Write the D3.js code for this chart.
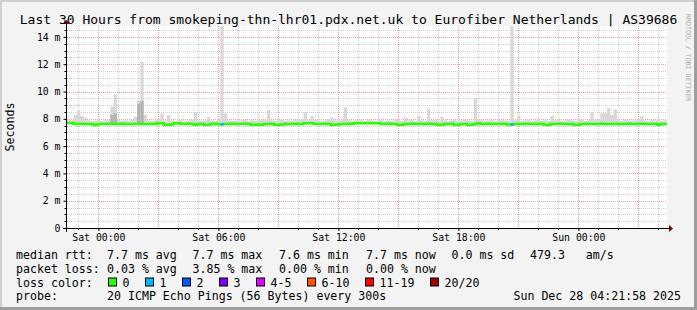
<!DOCTYPE html>
<html>
<head>
<meta charset="utf-8">
<script src="https://cdn.jsdelivr.net/npm/d3@7"></script>
<style>
  body { margin: 0; background: #f3f3f3; }
  svg text { font-family: "DejaVu Sans Mono", monospace; fill: #000; }
</style>
</head>
<body>
<svg id="chart" width="697" height="310"></svg>
<script>
// ---- data (10 minute bins, 30 hours) ----
const titleText = 'Last 30 Hours from smokeping-thn-lhr01.pdx.net.uk to Eurofiber Netherlands | AS39686';
const startTime = new Date(2025, 11, 26, 22, 26);
const endTime = new Date(2025, 11, 28, 4, 26);
const binMinutes = 10;

// median rtt in ms, one per bin
const medianRtt = [
  7.70,7.70,7.62,7.62,7.63,7.62,7.62,7.61,7.55,7.60,7.62,7.62,7.63,7.62,7.62,7.62,7.63,7.62,7.62,7.62,
  7.62,7.62,7.63,7.62,7.62,7.62,7.62,7.68,7.68,7.57,7.57,7.58,7.68,7.68,7.62,7.62,7.63,7.62,7.56,7.62,
  7.62,7.57,7.57,7.62,7.63,7.60,7.60,7.62,7.62,7.63,7.62,7.62,7.62,7.63,7.62,7.57,7.57,7.58,7.57,7.62,
  7.62,7.63,7.57,7.57,7.58,7.62,7.62,7.62,7.63,7.62,7.62,7.68,7.68,7.67,7.62,7.62,7.62,7.63,7.62,7.57,
  7.57,7.58,7.62,7.62,7.63,7.62,7.68,7.68,7.68,7.68,7.68,7.68,7.67,7.68,7.62,7.62,7.63,7.62,7.62,7.57,
  7.57,7.62,7.62,7.63,7.62,7.62,7.62,7.62,7.63,7.62,7.62,7.57,7.57,7.62,7.62,7.63,7.57,7.57,7.62,7.62,
  7.57,7.57,7.62,7.68,7.62,7.62,7.63,7.62,7.62,7.62,7.63,7.62,7.58,7.58,7.62,7.62,7.62,7.63,7.62,7.62,
  7.62,7.63,7.62,7.57,7.57,7.62,7.62,7.63,7.62,7.62,7.62,7.62,7.57,7.57,7.62,7.63,7.62,7.62,7.62,7.62,
  7.63,7.62,7.62,7.62,7.63,7.62,7.62,7.62,7.63,7.62,7.62,7.62,7.63,7.62,7.62,7.62,7.62,7.57,7.62,7.62
];

// highest ping of each bin in ms (top of the smoke)
const smokeMax = [
  7.95,7.90,8.30,8.65,8.20,8.10,7.90,7.85,7.85,7.90,7.85,7.90,7.95,8.90,9.75,7.90,7.85,7.90,7.85,7.95,
  8.15,9.30,12.20,8.30,7.90,7.85,7.90,7.95,8.40,7.90,8.30,7.90,7.85,7.90,7.95,7.85,7.90,7.95,8.50,7.90,
  7.85,7.90,8.15,7.90,7.85,7.95,14.80,8.40,7.90,7.85,7.90,7.85,7.90,7.95,7.85,7.90,7.85,7.90,7.95,7.90,
  8.65,7.90,7.85,7.90,7.95,7.85,7.90,7.85,7.95,7.90,7.95,8.50,7.90,8.20,7.95,7.90,7.85,7.90,7.95,8.10,
  7.90,7.85,7.95,8.85,7.90,7.85,7.90,7.95,7.90,7.85,7.95,7.90,7.85,7.90,7.95,7.85,7.90,7.85,7.95,7.90,
  7.85,8.10,7.90,7.95,7.85,8.20,7.90,7.85,8.70,7.90,7.95,7.85,8.15,7.90,7.85,7.95,7.90,7.85,7.90,7.95,
  7.90,7.85,9.50,7.95,7.90,7.85,7.90,7.95,7.85,7.90,7.95,7.90,7.85,14.80,7.90,8.20,7.85,7.90,7.95,7.85,
  7.90,7.95,7.85,7.90,7.85,8.20,7.90,7.95,7.85,7.90,7.95,7.90,7.85,7.90,7.95,7.85,7.90,8.50,7.90,7.95,
  8.40,8.40,8.80,8.30,8.70,7.90,7.85,7.95,7.90,7.85,7.90,7.95,8.20,7.90,7.85,7.95,7.90,8.00,7.85,7.90
];

// bins where the inner pings spread out as well: [bin, ms]
const smokeDark = [[13, 8.3], [14, 8.4], [21, 9.1], [22, 9.3]];

// bins with lost pings: [bin, lost count]
const lossEvents = [[46, 1], [133, 1]];

const yTicks = [0, 2, 4, 6, 8, 10, 12, 14];
const lossLabels = ['0', '1', '2', '3', '4-5', '6-10', '11-19', '20/20'];
const lossColors = ['#26ff00', '#00b8ff', '#0059ff', '#7e00ff', '#dd00ff', '#ff5500', '#ff0000', '#a00000'];
const rttStats = ['7.7 ms avg', '7.7 ms max', '7.6 ms min', '7.7 ms now', '0.0 ms sd', '479.3   am/s'];
const lossStats = ['0.03 % avg', '3.85 % max', '0.00 % min', '0.00 % now'];
const probeText = '20 ICMP Echo Pings (56 Bytes) every 300s';
const stampText = 'Sun Dec 28 04:21:58 2025';

// ---- layout ----
const W = 697, H = 310;
const plot = { left: 67, right: 667, top: 26, bottom: 228 };
const legendX = 16, valueX = 107;
const statX = [107, 192.5, 279, 366, 451.5, 530];
const lineY = [258.5, 272.5, 286.5, 299.5];

const svg = d3.select('#chart');

// frame
svg.append('rect').attr('width', W).attr('height', H).attr('fill', '#f3f3f3');
svg.append('path').attr('d', `M0,0H${W}V2H2V${H}H0Z`).attr('fill', '#cfcfcf');
svg.append('path').attr('d', `M${W},${H}H0V${H - 3}H${W - 3}V0H${W}Z`).attr('fill', '#9e9e9e');

const x = d3.scaleTime().domain([startTime, endTime]).range([plot.left, plot.right]);
const y = d3.scaleLinear().domain([0, 14.8]).range([plot.bottom, plot.top]);

const binTime = i => new Date(startTime.getTime() + i * binMinutes * 60000);

// canvas
svg.append('rect')
  .attr('x', plot.left).attr('y', plot.top)
  .attr('width', plot.right - plot.left).attr('height', plot.bottom - plot.top)
  .attr('fill', '#ffffff');

// grid
const grid = svg.append('g').attr('shape-rendering', 'crispEdges');
const hourTicks = x.ticks(d3.timeHour.every(1));
const majorTicks = x.ticks(d3.timeHour.every(3));
const majorSet = new Set(majorTicks.map(d => +d));

grid.selectAll('.vminor')
  .data(hourTicks.filter(d => !majorSet.has(+d)))
  .enter().append('line')
  .attr('x1', d => Math.round(x(d)) + 0.5).attr('x2', d => Math.round(x(d)) + 0.5)
  .attr('y1', plot.top).attr('y2', plot.bottom)
  .attr('stroke', '#cdcdcd').attr('stroke-dasharray', '1,1');

const hValues = d3.range(1, 30).map(k => k * 0.5);
grid.selectAll('.hminor')
  .data(hValues.filter(v => v % 2 !== 0))
  .enter().append('line')
  .attr('x1', plot.left).attr('x2', plot.right)
  .attr('y1', d => Math.round(y(d)) + 0.5).attr('y2', d => Math.round(y(d)) + 0.5)
  .attr('stroke', '#cdcdcd').attr('stroke-dasharray', '1,1');

grid.selectAll('.vmajor')
  .data(majorTicks)
  .enter().append('line')
  .attr('x1', d => Math.round(x(d)) + 0.5).attr('x2', d => Math.round(x(d)) + 0.5)
  .attr('y1', plot.top).attr('y2', plot.bottom)
  .attr('stroke', '#f59a9a').attr('stroke-dasharray', '1,1');

grid.selectAll('.hmajor')
  .data(yTicks.filter(v => v > 0))
  .enter().append('line')
  .attr('x1', plot.left).attr('x2', plot.right)
  .attr('y1', d => Math.round(y(d)) + 0.5).attr('y2', d => Math.round(y(d)) + 0.5)
  .attr('stroke', '#f59a9a').attr('stroke-dasharray', '1,1');

// smoke
const stepArea = d3.area()
  .curve(d3.curveStepAfter)
  .x(d => x(d.t));

const smokeData = medianRtt.map((m, i) => ({ t: binTime(i), lo: m, hi: smokeMax[i] }));
smokeData.push({ t: endTime, lo: medianRtt[medianRtt.length - 1], hi: smokeMax[smokeMax.length - 1] });

svg.append('path')
  .datum(smokeData)
  .attr('fill', '#d8d8d8')
  .attr('d', stepArea.y0(d => y(d.lo)).y1(d => y(d.hi)));

svg.selectAll('.dark')
  .data(smokeDark)
  .enter().append('rect')
  .attr('x', d => x(binTime(d[0])))
  .attr('width', d => x(binTime(d[0] + 1)) - x(binTime(d[0])))
  .attr('y', d => y(d[1]))
  .attr('height', d => y(medianRtt[d[0]]) - y(d[1]))
  .attr('fill', '#b4b4b4');

// median line
const lineData = medianRtt.map((m, i) => ({ t: binTime(i), v: m }));
lineData.push({ t: endTime, v: medianRtt[medianRtt.length - 1] });

svg.append('path')
  .datum(lineData)
  .attr('fill', 'none')
  .attr('stroke', lossColors[0])
  .attr('stroke-width', 2.5)
  .attr('d', d3.line().curve(d3.curveStepAfter).x(d => x(d.t)).y(d => y(d.v)));

svg.selectAll('.loss')
  .data(lossEvents)
  .enter().append('line')
  .attr('x1', d => x(binTime(d[0])))
  .attr('x2', d => x(binTime(d[0] + 1)))
  .attr('y1', d => y(medianRtt[d[0]]))
  .attr('y2', d => y(medianRtt[d[0]]))
  .attr('stroke', d => lossColors[d[1]])
  .attr('stroke-width', 2.5);

// axes
const xAxis = d3.axisBottom(x)
  .ticks(d3.timeHour.every(6))
  .tickFormat(d3.timeFormat('%a %H:%M'))
  .tickSizeInner(3).tickSizeOuter(0).tickPadding(3);

const gx = svg.append('g')
  .attr('transform', `translate(0,${plot.bottom})`)
  .call(xAxis);
gx.select('.domain').remove();
gx.selectAll('text').style('font-size', '9.8px');
gx.selectAll('line').attr('stroke', '#000');

const yAxis = d3.axisLeft(y)
  .tickValues(yTicks)
  .tickFormat(d => d === 0 ? '0' : `${d} m`)
  .tickSizeInner(3).tickSizeOuter(0).tickPadding(3);

const gy = svg.append('g')
  .attr('transform', `translate(${plot.left - 0.5},0)`)
  .call(yAxis);
gy.select('.domain').remove();
gy.selectAll('text').style('font-size', '9.8px');
gy.selectAll('line').attr('stroke', '#000');

// small ticks on the half-metre lines
svg.selectAll('.ytick-minor')
  .data(hValues.filter(v => v % 2 !== 0))
  .enter().append('line')
  .attr('x1', plot.left - 2.5).attr('x2', plot.left)
  .attr('y1', d => Math.round(y(d)) + 0.5).attr('y2', d => Math.round(y(d)) + 0.5)
  .attr('stroke', '#000');

svg.selectAll('.xtick-minor')
  .data(hourTicks.filter(d => !majorSet.has(+d)))
  .enter().append('line')
  .attr('x1', d => Math.round(x(d)) + 0.5).attr('x2', d => Math.round(x(d)) + 0.5)
  .attr('y1', plot.bottom).attr('y2', plot.bottom + 2)
  .attr('stroke', '#000');

// axis lines with arrows
svg.append('line')
  .attr('x1', plot.left - 4).attr('x2', plot.right + 2)
  .attr('y1', plot.bottom + 0.5).attr('y2', plot.bottom + 0.5)
  .attr('stroke', '#000');
svg.append('line')
  .attr('x1', plot.left - 0.5).attr('x2', plot.left - 0.5)
  .attr('y1', plot.bottom + 4).attr('y2', plot.top - 2)
  .attr('stroke', '#000');
svg.append('path')
  .attr('d', `M${plot.right + 2},${plot.bottom - 3}L${plot.right + 6},${plot.bottom + 0.5}L${plot.right + 2},${plot.bottom + 4}Z`)
  .attr('fill', '#7f0000');
svg.append('path')
  .attr('d', `M${plot.left - 4},${plot.top - 2}L${plot.left - 0.5},${plot.top - 6}L${plot.left + 3},${plot.top - 2}Z`)
  .attr('fill', '#7f0000');

// title and axis title
svg.append('text')
  .attr('x', W / 2).attr('y', 24)
  .attr('text-anchor', 'middle')
  .style('font-size', '13px')
  .text(titleText);

svg.append('text')
  .attr('transform', `translate(13.5,${(plot.top + plot.bottom) / 2}) rotate(-90)`)
  .attr('text-anchor', 'middle')
  .style('font-size', '11.6px')
  .text('Seconds');

svg.append('text')
  .attr('transform', 'translate(686,14) rotate(90)')
  .style('font-size', '6.6px')
  .style('fill', '#a8a8a8')
  .text('RRDTOOL / TOBI OETIKER');

// legend
const legend = svg.append('g').style('font-size', '11.6px').style('white-space', 'pre');

legend.append('text').attr('x', legendX).attr('y', lineY[0]).text('median rtt:');
legend.selectAll('.rtt')
  .data(rttStats)
  .enter().append('text')
  .attr('x', (d, i) => statX[i]).attr('y', lineY[0])
  .attr('xml:space', 'preserve')
  .text(d => d);

legend.append('text').attr('x', legendX).attr('y', lineY[1]).text('packet loss:');
legend.selectAll('.lossStat')
  .data(lossStats)
  .enter().append('text')
  .attr('x', (d, i) => statX[i]).attr('y', lineY[1])
  .text(d => d);

legend.append('text').attr('x', legendX).attr('y', lineY[2]).text('loss color:');
let boxX = 108.5;
lossLabels.forEach((label, i) => {
  legend.append('rect')
    .attr('x', boxX).attr('y', lineY[2] - 8.5)
    .attr('width', 8).attr('height', 8)
    .attr('fill', lossColors[i])
    .attr('stroke', '#000').attr('stroke-width', 1);
  legend.append('text')
    .attr('x', boxX + 14).attr('y', lineY[2])
    .text(label);
  boxX += 30 + label.length * 7;
});

legend.append('text').attr('x', legendX).attr('y', lineY[3]).text('probe:');
legend.append('text').attr('x', valueX).attr('y', lineY[3]).text(probeText);
legend.append('text')
  .attr('x', 681).attr('y', lineY[3])
  .attr('text-anchor', 'end')
  .text(stampText);
</script>
</body>
</html>
